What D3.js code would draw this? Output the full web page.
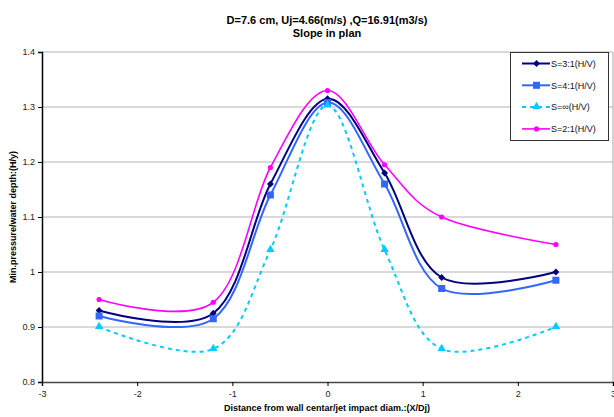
<!DOCTYPE html>
<html>
<head>
<meta charset="utf-8">
<script src="https://cdn.jsdelivr.net/npm/d3@7"></script>
<style>
  html, body { margin: 0; padding: 0; background: #fff; }
  svg { display: block; font-family: "Liberation Sans", Arial, sans-serif; }
</style>
</head>
<body>
<svg id="chart" width="614" height="417"></svg>
<script>
  // Data
  var xValues = [-2.4, -1.2, -0.6, 0, 0.6, 1.2, 2.4];
  var s31 = [0.93, 0.925, 1.16, 1.315, 1.18, 0.99, 1.00];
  var s41 = [0.92, 0.915, 1.14, 1.308, 1.16, 0.97, 0.985];
  var sInf = [0.90, 0.86, 1.04, 1.303, 1.04, 0.86, 0.90];
  var s21 = [0.95, 0.945, 1.19, 1.33, 1.195, 1.10, 1.05];
  var seriesNames = ["S=3:1(H/V)", "S=4:1(H/V)", "S=\u221E(H/V)", "S=2:1(H/V)"];
  var xTicks = [-3, -2, -1, 0, 1, 2, 3];
  var yTicks = [0.8, 0.9, 1, 1.1, 1.2, 1.3, 1.4];

  (function () {
    var series = [
      { name: seriesNames[0], values: s31, color: "#000080", marker: "diamond", dash: null, width: 2 },
      { name: seriesNames[1], values: s41, color: "#3366ff", marker: "square", dash: null, width: 2 },
      { name: seriesNames[2], values: sInf, color: "#00ccff", marker: "triangle", dash: "4,4", width: 2 },
      { name: seriesNames[3], values: s21, color: "#ff00ff", marker: "circle", dash: null, width: 1.6 }
    ];

    var svg = d3.select("svg#chart");
    var pl = 42, pr = 613, pt = 52, pb = 382;

    var x = d3.scaleLinear().domain([-3, 3]).range([pl, pr]);
    var y = d3.scaleLinear().domain([0.8, 1.4]).range([pb, pt]);

    // Grid lines
    svg.append("g")
      .selectAll("line")
      .data(yTicks.filter(function (d) { return d > 0.8; }))
      .join("line")
      .attr("x1", pl).attr("x2", pr)
      .attr("y1", function (d) { return y(d); })
      .attr("y2", function (d) { return y(d); })
      .attr("stroke", "#b4b4b4")
      .attr("stroke-width", 1.2);

    // Right frame
    svg.append("line")
      .attr("x1", pr).attr("x2", pr)
      .attr("y1", pt).attr("y2", pb)
      .attr("stroke", "#b4b4b4").attr("stroke-width", 1.2);

    // Axes
    var yAxis = d3.axisLeft(y).tickValues(yTicks).tickSize(4).tickPadding(3)
      .tickFormat(function (d) { return String(+d.toFixed(1)); });
    var xAxis = d3.axisBottom(x).tickValues(xTicks).tickSize(4).tickPadding(5)
      .tickFormat(function (d) { return String(d); });

    var gy = svg.append("g").attr("transform", "translate(" + pl + ",0)").call(yAxis);
    var gx = svg.append("g").attr("transform", "translate(0," + pb + ")").call(xAxis);
    [gx, gy].forEach(function (g) {
      g.select(".domain").attr("stroke", "#000").attr("stroke-width", 1.5);
      g.selectAll(".tick line").attr("stroke", "#000");
      g.selectAll(".tick text").attr("fill", "#222").attr("font-size", 9)
        .attr("font-family", "'Liberation Sans', Arial, sans-serif");
    });
    gx.select(".domain").attr("stroke", "#444");

    // Curves
    var line = d3.line()
      .x(function (d, i) { return x(xValues[i]); })
      .y(function (d) { return y(d); })
      .curve(d3.curveCardinal.tension(0));

    function drawMarker(g, type, cx, cy, color) {
      if (type === "diamond") {
        g.append("path").attr("d", d3.symbol(d3.symbolDiamond2, 30)())
          .attr("transform", "translate(" + cx + "," + cy + ")").attr("fill", color);
      } else if (type === "square") {
        g.append("rect").attr("x", cx - 3.5).attr("y", cy - 3.5)
          .attr("width", 7).attr("height", 7).attr("fill", color);
      } else if (type === "triangle") {
        g.append("path").attr("d", d3.symbol(d3.symbolTriangle, 30)())
          .attr("transform", "translate(" + cx + "," + (cy - 0.5) + ")").attr("fill", color);
      } else {
        g.append("circle").attr("cx", cx).attr("cy", cy).attr("r", 2.6).attr("fill", color);
      }
    }

    var plot = svg.append("g");
    series.forEach(function (s) {
      plot.append("path")
        .attr("d", line(s.values))
        .attr("fill", "none")
        .attr("stroke", s.color)
        .attr("stroke-width", s.width)
        .attr("stroke-dasharray", s.dash);
      var mg = plot.append("g");
      s.values.forEach(function (v, i) {
        drawMarker(mg, s.marker, x(xValues[i]), y(v), s.color);
      });
    });

    // Legend
    var lg = svg.append("g");
    lg.append("rect")
      .attr("x", 510.5).attr("y", 52.5).attr("width", 98).attr("height", 88)
      .attr("fill", "#fff").attr("stroke", "#333").attr("stroke-width", 1);
    series.forEach(function (s, i) {
      var ly = 63.5 + i * 21.8;
      lg.append("line")
        .attr("x1", 522).attr("x2", 550).attr("y1", ly).attr("y2", ly)
        .attr("stroke", s.color).attr("stroke-width", s.width)
        .attr("stroke-dasharray", s.dash);
      drawMarker(lg, s.marker, 536.5, ly, s.color);
      lg.append("text")
        .attr("x", 551).attr("y", ly + 3.2)
        .attr("font-size", 9).attr("fill", "#111")
        .text(s.name);
    });

    // Titles
    svg.append("text").attr("x", 327).attr("y", 24)
      .attr("text-anchor", "middle").attr("font-size", 11).attr("font-weight", "bold")
      .text("D=7.6 cm, Uj=4.66(m/s) ,Q=16.91(m3/s)");
    svg.append("text").attr("x", 327).attr("y", 37)
      .attr("text-anchor", "middle").attr("font-size", 11).attr("font-weight", "bold")
      .text("Slope in plan");
    svg.append("text").attr("x", 327).attr("y", 411)
      .attr("text-anchor", "middle").attr("font-size", 9).attr("font-weight", "bold")
      .text("Distance from wall centar/jet impact diam.:(X/Dj)");
    svg.append("text")
      .attr("transform", "translate(16," + ((pt + pb) / 2) + ") rotate(-90)")
      .attr("text-anchor", "middle").attr("font-size", 9).attr("font-weight", "bold")
      .text("Min.pressure/water depth:(H/y)");
  })();
</script>
</body>
</html>
